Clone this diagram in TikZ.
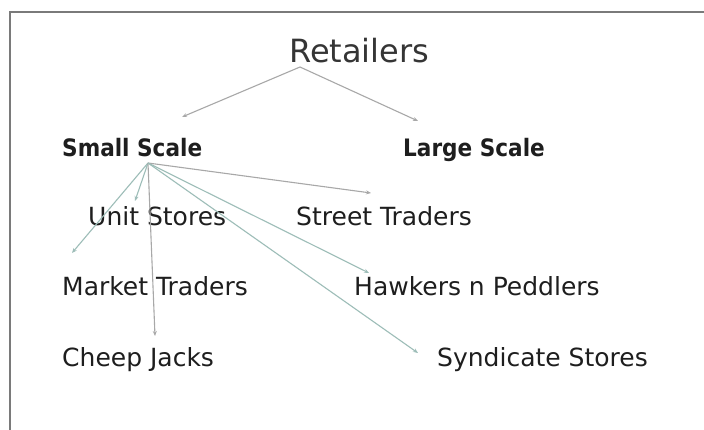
\documentclass[tikz,border=0pt]{standalone}
\usepackage{fontspec}
\setmainfont{DejaVu Sans}
\newfontfamily\boldnarrow[FakeStretch=0.9]{DejaVu Sans Bold}
\usetikzlibrary{arrows.meta}
\definecolor{framegray}{HTML}{7A7A7A}
\definecolor{arrgray}{HTML}{A8A8A8}
\definecolor{arrteal}{HTML}{9DBDB8}
\definecolor{txt}{HTML}{1E1E1E}
\begin{document}
\begin{tikzpicture}[x=1pt,y=-1pt,
  lbl/.style={anchor=base west,inner sep=0pt,text=txt,font=\fontsize{25}{27}\selectfont},
  head/.style={anchor=base west,inner sep=0pt,text=txt,font=\fontsize{24}{26}\boldnarrow},
  top/.style={anchor=base west,inner sep=0pt,text=txt!90!white,font=\fontsize{32}{34}\selectfont},
  link/.style={draw=arrgray,line width=1.1pt,-{Stealth[length=5pt,width=4pt]}},
  tlink/.style={draw=arrteal,line width=1.1pt,-{Stealth[length=5pt,width=4pt]}}]
\useasboundingbox[fill=white] (0,0) rectangle (704,430);
\draw[framegray,line width=2.5pt] (10,440) -- (10,12) -- (714,12);
% nodes
\node[top]  (ret)  at (289,63)  {Retailers};
\node[head] (ss)   at (62,157)  {Small Scale};
\node[head] (ls)   at (403,157) {Large Scale};
\node[lbl]  (us)   at (88,226)  {Unit Stores};
\node[lbl]  (st)   at (296,226) {Street Traders};
\node[lbl]  (mt)   at (62,296)  {Market Traders};
\node[lbl]  (hp)   at (354,296) {Hawkers n Peddlers};
\node[lbl]  (cj)   at (62,366)  {Cheep Jacks};
\node[lbl]  (sy)   at (437,366) {Syndicate Stores};
% connector anchor points
\coordinate (r0) at (300,67);
\coordinate (s0) at (148,163);
\coordinate (tss) at (182,117);
\coordinate (tls) at (418,121);
\coordinate (tus) at (135,201);
\coordinate (tmt) at (72,253);
\coordinate (tcj) at (155,336);
\coordinate (tst) at (371,193);
\coordinate (thp) at (369,273);
\coordinate (tsy) at (418,353);
\draw[link] (r0) -- (tss);
\draw[link] (r0) -- (tls);
\draw[tlink] (s0) -- (tus);
\draw[tlink] (s0) -- (tmt);
\draw[link] (s0) -- (tcj);
\draw[link] (s0) -- (tst);
\draw[tlink] (s0) -- (thp);
\draw[tlink] (s0) -- (tsy);
\end{tikzpicture}
\end{document}
